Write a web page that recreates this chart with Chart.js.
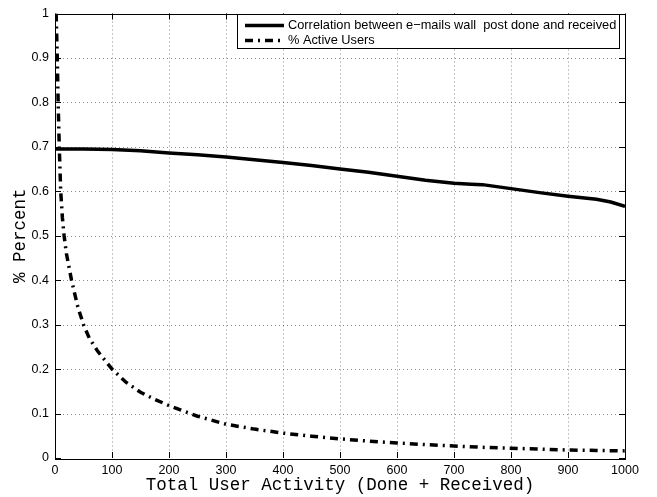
<!DOCTYPE html>
<html>
<head>
<meta charset="utf-8">
<script src="https://cdn.jsdelivr.net/npm/chart.js@4.4.1/dist/chart.umd.min.js"></script>
<style>
  html, body { margin: 0; padding: 0; background: #fff; }
  #wrap { width: 657px; height: 497px; }
</style>
</head>
<body>
<div id="wrap"><canvas id="myChart" width="657" height="497"></canvas></div>
<script>
/* ======================================
        DATA
========================================*/
const xTicks = [0, 100, 200, 300, 400, 500, 600, 700, 800, 900, 1000];
const xTickLabels = ['0', '100', '200', '300', '400', '500', '600', '700', '800', '900', '1000'];
const yTicks = [0, 0.1, 0.2, 0.3, 0.4, 0.5, 0.6, 0.7, 0.8, 0.9, 1];
const yTickLabels = ['0', '0.1', '0.2', '0.3', '0.4', '0.5', '0.6', '0.7', '0.8', '0.9', '1'];

const corrX = [0, 50, 100, 150, 200, 250, 300, 350, 400, 450, 500, 550, 600, 650, 700, 730, 750, 800, 850, 900, 950, 975, 1000];
const corrY = [0.695, 0.695, 0.694, 0.691, 0.686, 0.682, 0.677, 0.671, 0.665, 0.658, 0.650, 0.643, 0.634, 0.625, 0.618, 0.616, 0.615, 0.606, 0.597, 0.589, 0.582, 0.576, 0.566];

const activeX = [2, 4, 5.5, 7.5, 10, 13, 16, 20, 29, 40, 50, 60, 75, 100, 125, 150, 175, 200, 250, 300, 350, 400, 450, 500, 550, 600, 650, 700, 750, 800, 850, 900, 950, 1000];
const activeY = [1.0, 0.9, 0.8, 0.7, 0.6, 0.54, 0.5, 0.46, 0.4, 0.34, 0.3, 0.27, 0.24, 0.2, 0.17, 0.148, 0.132, 0.118, 0.094, 0.076, 0.065, 0.056, 0.049, 0.043, 0.038, 0.034, 0.030, 0.027, 0.024, 0.022, 0.020, 0.018, 0.017, 0.016];

const seriesLabels = ['Correlation between e\u2212mails wall  post done and received', '% Active Users'];
const xTitle = 'Total User Activity (Done + Received)';
const yTitle = '% Percent';

function toPoints(xs, ys) {
  return xs.map((x, i) => ({ x: x, y: ys[i] }));
}

/* ======================================
        MATLAB STYLE FRAME + LEGEND
========================================*/
const activeDash = [8, 5, 2, 5];

const backdrop = {
  id: 'backdrop',
  beforeDatasetsDraw(chart) {
    const ctx = chart.ctx;
    const a = chart.chartArea;
    const xs = chart.scales.x, ys = chart.scales.y;
    ctx.save();
    ctx.strokeStyle = 'rgba(0,0,0,0.45)';
    ctx.lineWidth = 1;
    ctx.setLineDash([1, 3]);
    xTicks.forEach(v => {
      if (v === xTicks[0] || v === xTicks[xTicks.length - 1]) return;
      const px = Math.round(xs.getPixelForValue(v)) + 0.5;
      ctx.beginPath(); ctx.moveTo(px, a.top); ctx.lineTo(px, a.bottom); ctx.stroke();
    });
    yTicks.forEach(v => {
      if (v === yTicks[0] || v === yTicks[yTicks.length - 1]) return;
      const py = Math.round(ys.getPixelForValue(v)) + 0.5;
      ctx.beginPath(); ctx.moveTo(a.left, py); ctx.lineTo(a.right, py); ctx.stroke();
    });
    ctx.restore();
  },
  afterDatasetsDraw(chart) {
    const ctx = chart.ctx;
    const a = chart.chartArea;
    const xs = chart.scales.x, ys = chart.scales.y;
    const tl = 6;
    ctx.save();
    ctx.strokeStyle = '#000';
    ctx.lineWidth = 1;
    ctx.setLineDash([]);
    // inward ticks
    xTicks.forEach(v => {
      const px = Math.round(xs.getPixelForValue(v)) + 0.5;
      ctx.beginPath();
      ctx.moveTo(px, a.bottom); ctx.lineTo(px, a.bottom - tl);
      ctx.moveTo(px, a.top); ctx.lineTo(px, a.top + tl);
      ctx.stroke();
    });
    yTicks.forEach(v => {
      const py = Math.round(ys.getPixelForValue(v)) + 0.5;
      ctx.beginPath();
      ctx.moveTo(a.left, py); ctx.lineTo(a.left + tl, py);
      ctx.moveTo(a.right, py); ctx.lineTo(a.right - tl, py);
      ctx.stroke();
    });
    // box
    ctx.strokeRect(Math.round(a.left) + 0.5, Math.round(a.top) + 0.5,
      Math.round(a.right - a.left), Math.round(a.bottom - a.top));

    // legend box
    const lx = 237, ly = 14, lw = 382, lh = 34;
    ctx.fillStyle = '#fff';
    ctx.fillRect(lx, ly, lw, lh);
    ctx.strokeRect(lx + 0.5, ly + 0.5, lw, lh);
    const rows = [25, 40];
    chart.data.datasets.forEach((ds, i) => {
      const ry = rows[i] + 0.5;
      ctx.beginPath();
      ctx.lineWidth = ds.borderWidth;
      ctx.lineCap = 'butt';
      ctx.setLineDash(ds.borderDash || []);
      ctx.moveTo(245, ry); ctx.lineTo(284, ry);
      ctx.stroke();
      ctx.setLineDash([]);
      ctx.fillStyle = '#000';
      ctx.font = '12.8px "Liberation Sans", Arial, sans-serif';
      ctx.textBaseline = 'middle';
      ctx.textAlign = 'left';
      ctx.fillText(ds.label, 288, rows[i] + 0.5);
    });

    // axis titles
    ctx.fillStyle = '#000';
    ctx.font = '17.5px "Liberation Mono", "Courier New", monospace';
    ctx.textAlign = 'center';
    ctx.textBaseline = 'middle';
    ctx.fillText(xTitle, (a.left + a.right) / 2, 485);
    ctx.save();
    ctx.translate(20, (a.top + a.bottom) / 2);
    ctx.rotate(-Math.PI / 2);
    ctx.fillText(yTitle, 0, 0);
    ctx.restore();
    ctx.restore();
  }
};

/* ======================================
        THE CHART
========================================*/
Chart.defaults.font.family = '"Liberation Sans", Arial, sans-serif';
Chart.defaults.color = '#000';

const myChart = document.getElementById('myChart').getContext('2d');
const lineChart = new Chart(myChart, {
  type: 'line',
  data: {
    datasets: [{
      label: seriesLabels[0],
      data: toPoints(corrX, corrY),
      borderColor: '#000',
      borderWidth: 3.5,
      pointRadius: 0,
      tension: 0,
      fill: false
    }, {
      label: seriesLabels[1],
      data: toPoints(activeX, activeY),
      borderColor: '#000',
      borderWidth: 3.5,
      borderDash: activeDash,
      borderCapStyle: 'butt',
      pointRadius: 0,
      tension: 0,
      fill: false
    }]
  },
  plugins: [backdrop],
  options: {
    responsive: false,
    animation: false,
    events: [],
    layout: { padding: { top: 9, right: 32, left: 0, bottom: 0 } },
    plugins: {
      legend: { display: false },
      tooltip: { enabled: false }
    },
    scales: {
      x: {
        type: 'linear',
        min: 0,
        max: 1000,
        afterBuildTicks: s => { s.ticks = xTicks.map(v => ({ value: v })); },
        afterFit: s => { s.height = 39; },
        ticks: {
          font: { size: 12.5 },
          padding: 5,
          maxRotation: 0,
          autoSkip: false,
          callback: (v, i) => xTickLabels[i]
        },
        grid: { display: false, drawTicks: false },
        border: { display: false }
      },
      y: {
        type: 'linear',
        min: 0,
        max: 1,
        afterBuildTicks: s => { s.ticks = yTicks.map(v => ({ value: v })); },
        afterFit: s => { s.width = 55; },
        ticks: {
          font: { size: 12.5 },
          padding: 6,
          autoSkip: false,
          callback: (v, i) => yTickLabels[i]
        },
        grid: { display: false, drawTicks: false },
        border: { display: false }
      }
    }
  }
});
</script>
</body>
</html>
